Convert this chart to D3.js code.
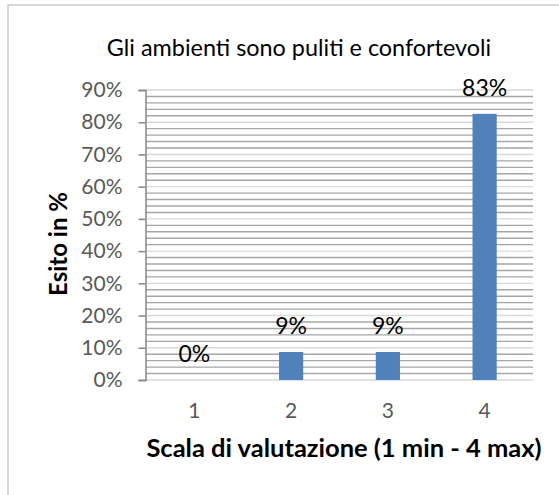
<!DOCTYPE html>
<html>
<head>
<meta charset="utf-8">
<script src="https://cdn.jsdelivr.net/npm/d3@7"></script>
<style>
  body { margin: 0; background: #fff; }
  svg { display: block; font-family: Lato, "Open Sans", sans-serif; }
</style>
</head>
<body>
<div id="chart"></div>
<script>
const categories = ["1", "2", "3", "4"];
const values = [0, 0.087, 0.087, 0.826];
const valueLabels = ["0%", "9%", "9%", "83%"];
const yTicks = [0, 0.1, 0.2, 0.3, 0.4, 0.5, 0.6, 0.7, 0.8, 0.9];
const minorTicks = d3.range(0, 0.9001, 0.02);

const width = 559;
const height = 495;

const svg = d3
  .select("#chart")
  .append("svg")
  .attr("width", width)
  .attr("height", height);

// outer frame (only left/top visible)
svg
  .append("rect")
  .attr("x", 8)
  .attr("y", 5)
  .attr("width", 600)
  .attr("height", 600)
  .attr("fill", "none")
  .attr("stroke", "#d9d9d9")
  .attr("stroke-width", 2);

const x = d3
  .scaleBand()
  .domain(categories)
  .range([146, 533])
  .paddingInner(0.75)
  .paddingOuter(0.375);

const y = d3.scaleLinear().domain([0, 0.9]).range([380, 90]);

// ---------
// GRIDLINES
// ---------
svg
  .append("g")
  .selectAll("line")
  .data(minorTicks)
  .enter()
  .append("line")
  .attr("x1", 146)
  .attr("x2", 533)
  .attr("y1", (d) => y(d))
  .attr("y2", (d) => y(d))
  .attr("stroke", (d) => {
    const major = Math.abs(Math.round(d * 10) - d * 10) < 1e-6;
    return major ? "#d9d9d9" : "#a6a6a6";
  })
  .attr("stroke-width", 1.4);

// ----
// BARS
// ----
svg
  .append("g")
  .selectAll("rect")
  .data(values)
  .enter()
  .append("rect")
  .attr("x", (d, i) => x(categories[i]))
  .attr("y", (d) => y(d))
  .attr("width", x.bandwidth())
  .attr("height", (d) => y(0) - y(d))
  .attr("fill", "#4f81bd");

// value labels
svg
  .append("g")
  .selectAll("text")
  .data(values)
  .enter()
  .append("text")
  .attr("x", (d, i) => x(categories[i]) + x.bandwidth() / 2)
  .attr("y", (d) => y(d) - 18)
  .attr("text-anchor", "middle")
  .attr("font-size", 23)
  .attr("fill", "#000")
  .text((d, i) => valueLabels[i]);

// ------
// Y AXIS
// ------
const yAxis = svg
  .append("g")
  .attr("transform", "translate(145.5,0)")
  .call(
    d3
      .axisLeft(y)
      .tickValues(yTicks)
      .tickFormat(d3.format(".0%"))
      .tickSize(7)
      .tickPadding(16)
  );
yAxis.select(".domain").attr("stroke", "#868686").attr("stroke-width", 1.5);
yAxis.selectAll(".tick line").attr("stroke", "#868686").attr("stroke-width", 1.5);
yAxis
  .selectAll(".tick text")
  .attr("fill", "#595959")
  .attr("font-size", 21)
  .attr("font-family", "Lato, sans-serif");

// ------
// X AXIS
// ------
const xAxis = svg
  .append("g")
  .attr("transform", "translate(0,380)")
  .call(d3.axisBottom(x).tickSize(0).tickPadding(23));
xAxis.select(".domain").remove();
xAxis
  .selectAll(".tick text")
  .attr("fill", "#595959")
  .attr("font-size", 21)
  .attr("font-family", "Lato, sans-serif");

// ------
// TITLES
// ------
svg
  .append("text")
  .attr("x", 299)
  .attr("y", 56)
  .attr("text-anchor", "middle")
  .attr("font-size", 23.4)
  .attr("fill", "#000")
  .text("Gli ambienti sono puliti e confortevoli");

svg
  .append("text")
  .attr("x", 344)
  .attr("y", 457)
  .attr("text-anchor", "middle")
  .attr("font-size", 25.5)
  .attr("font-weight", "bold")
  .attr("fill", "#000")
  .text("Scala di valutazione (1 min - 4 max)");

svg
  .append("text")
  .attr("transform", "translate(67,244) rotate(-90)")
  .attr("text-anchor", "middle")
  .attr("font-size", 24)
  .attr("font-weight", "bold")
  .attr("fill", "#000")
  .text("Esito in %");
</script>
</body>
</html>
